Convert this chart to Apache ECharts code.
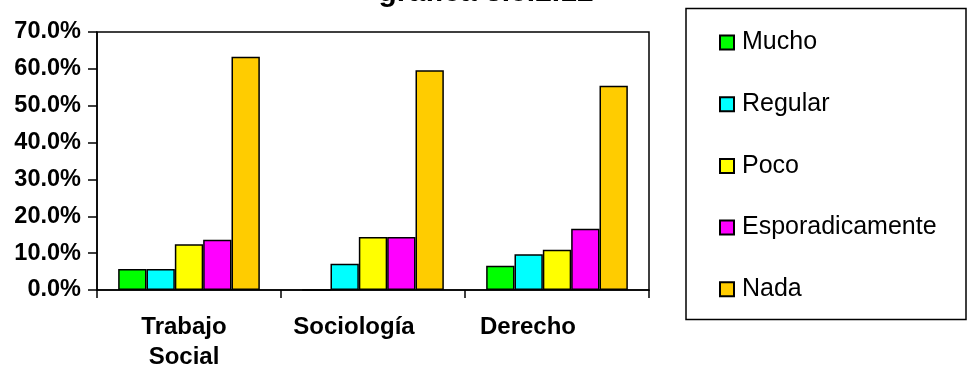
<!DOCTYPE html>
<html><head><meta charset="utf-8">
<script src="https://cdn.jsdelivr.net/npm/echarts@6/dist/echarts.min.js"></script>
<style>html,body{margin:0;padding:0;background:#fff}#c{width:969px;height:372px}</style>
</head><body><div id="c"></div>
<script>
const titleText = 'grafica 3.5.2.12';
const categories = ['Trabajo\nSocial', 'Sociología', 'Derecho'];
const seriesNames = ['Mucho', 'Regular', 'Poco', 'Esporadicamente', 'Nada'];
const mucho = [5.7, 0, 6.6];
const regular = [5.7, 7.1, 9.7];
const poco = [12.4, 14.4, 10.9];
const esporadicamente = [13.6, 14.4, 16.6];
const nada = [63.3, 59.6, 55.4];
const colors = ['#00FF00', '#00FFFF', '#FFFF00', '#FF00FF', '#FFCC00'];
const values = [mucho, regular, poco, esporadicamente, nada];
// label horizontal shift (px to the left) as seen in the reference
const labelShift = [5, 19, 29];

const chart = echarts.init(document.getElementById('c'), null, {renderer: 'canvas'});
const font = 'Liberation Sans, Arial, sans-serif';
chart.setOption({
  animation: false,
  title: {
    text: titleText, left: 481, textAlign: 'center', top: -27,
    textStyle: {fontFamily: font, fontWeight: 'bold', fontSize: 30, color: '#000'}
  },
  grid: {left: 97, right: 320, top: 32, bottom: 82, show: true, borderColor: '#000', borderWidth: 1.5, backgroundColor: '#fff'},
  legend: {
    orient: 'vertical', left: 714, top: 25, itemWidth: 14, itemHeight: 14, itemGap: 36.7,
    icon: 'rect',
    textStyle: {fontFamily: font, fontSize: 25, color: '#000', lineHeight: 25, padding: [0,0,0,3]},
    data: seriesNames
  },
  graphic: [{
    type: 'rect', shape: {x: 686, y: 8.5, width: 280, height: 311}, z: -1,
    style: {fill: '#fff', stroke: '#000', lineWidth: 1.5}
  }],
  xAxis: {
    type: 'category',
    data: categories.map((c, i) => ({value: c, textStyle: {padding: [0, 2 * labelShift[i], 0, 0]}})),
    axisLine: {lineStyle: {color: '#000', width: 1.5}},
    axisTick: {show: true, length: 8, lineStyle: {color: '#000', width: 1.5}},
    axisLabel: {fontFamily: font, fontWeight: 'bold', fontSize: 24, color: '#000', margin: 22, lineHeight: 30}
  },
  yAxis: {
    type: 'value', min: 0, max: 70, interval: 10,
    splitLine: {show: false},
    axisLine: {show: true, lineStyle: {color: '#000', width: 1.5}},
    axisTick: {show: true, length: 9, lineStyle: {color: '#000', width: 1.5}},
    axisLabel: {fontFamily: font, fontWeight: 'bold', fontSize: 23.5, color: '#000', margin: 16,
      formatter: v => v.toFixed(1) + '%'}
  },
  series: seriesNames.map((n, i) => ({
    name: n, type: 'bar', data: values[i], barGap: '0%', barCategoryGap: '23%',
    itemStyle: {color: colors[i], borderColor: '#000', borderWidth: 1.5}
  }))
});
</script></body></html>
